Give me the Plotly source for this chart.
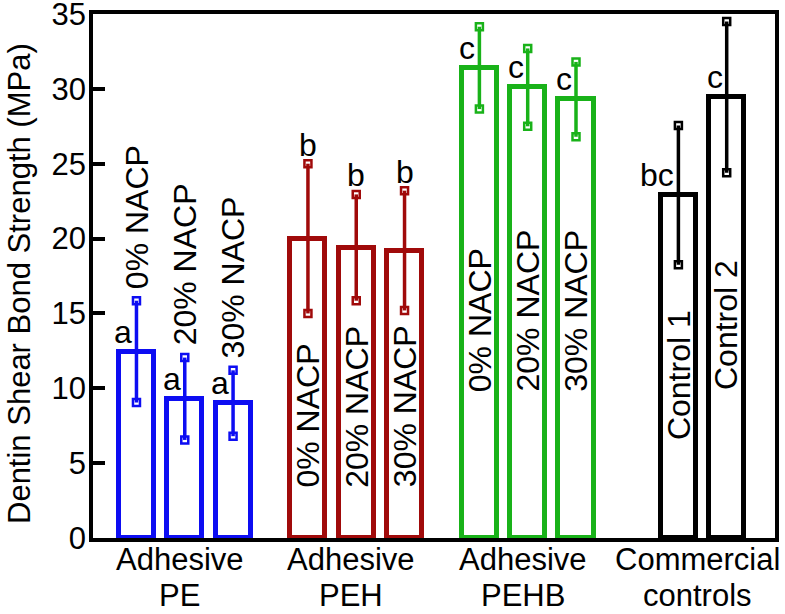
import plotly.graph_objects as go

# ---------------- data ----------------
group_line1 = ["Adhesive", "Adhesive", "Adhesive", "Commercial"]
group_line2 = ["PE", "PEH", "PEHB", "controls"]
bar_labels = [
    ["0% NACP", "20% NACP", "30% NACP"],
    ["0% NACP", "20% NACP", "30% NACP"],
    ["0% NACP", "20% NACP", "30% NACP"],
    ["Control 1", "Control 2"],
]
means_pe = [12.45, 9.3, 9.0]
sd_pe = [3.4, 2.75, 2.2]
means_peh = [20.0, 19.4, 19.2]
sd_peh = [5.0, 3.55, 4.0]
means_pehb = [31.4, 30.1, 29.3]
sd_pehb = [2.75, 2.6, 2.5]
means_ctrl = [22.9, 29.45]
sd_ctrl = [4.65, 5.05]
letters = [["a", "a", "a"], ["b", "b", "b"], ["c", "c", "c"], ["bc", "c"]]

means = [means_pe, means_peh, means_pehb, means_ctrl]
sds = [sd_pe, sd_peh, sd_pehb, sd_ctrl]
y_ticks = [0, 5, 10, 15, 20, 25, 30, 35]
y_title = "Dentin Shear Bond Strength (MPa)"

# ---------------- layout / style ----------------
colors = ["#0D0DF2", "#A00A0A", "#19B219", "#000000"]
group_starts = [0.9, 4.45, 8.0, 12.12]
step = 1.0
FONT = "Arial, Liberation Sans, sans-serif"
# where rotated labels sit: 'err' = above error bar, number = bottom of text in data units
label_mode = ["err", 3.5, 9.9, [6.7, 10.0]]
letter_mode = ["bar", "err", "bar", "bar"]
LBL = 32
LET = 32
XLBL = 31

fig = go.Figure()
annotations = []
centers = []
for g, (m, s) in enumerate(zip(means, sds)):
    xs = [group_starts[g] + i * step for i in range(len(m))]
    centers.append(sum(xs) / len(xs))
    col = colors[g]
    fig.add_trace(go.Bar(
        x=xs, y=m, width=0.725,
        marker=dict(color="rgba(255,255,255,0)", line=dict(color=col, width=5)),
        error_y=dict(type="data", array=s, visible=True, color=col, thickness=3.5, width=0),
        showlegend=False,
    ))
    cap_x = xs + xs
    cap_y = [mi + si for mi, si in zip(m, s)] + [mi - si for mi, si in zip(m, s)]
    fig.add_trace(go.Scatter(
        x=cap_x, y=cap_y, mode="markers",
        marker=dict(symbol="square-open", size=7, color=col, line=dict(color=col, width=2.5)),
        showlegend=False, hoverinfo="skip",
    ))
    for i, x in enumerate(xs):
        mode = label_mode[g]
        if mode == "err":
            annotations.append(dict(x=x, y=m[i] + s[i], text=bar_labels[g][i], textangle=-90,
                                    xanchor="center", yanchor="bottom", yshift=10, xshift=0,
                                    showarrow=False, font=dict(size=LBL, color="black", family=FONT)))
        else:
            yb = mode[i] if isinstance(mode, list) else mode
            annotations.append(dict(x=x, y=yb, text=bar_labels[g][i], textangle=-90,
                                    xanchor="center", yanchor="bottom", yshift=-4, xshift=0,
                                    showarrow=False, font=dict(size=LBL, color="black", family=FONT)))
        if letter_mode[g] == "err":
            annotations.append(dict(x=x, y=m[i] + s[i], text=letters[g][i], xanchor="center",
                                    yanchor="middle", yshift=19, showarrow=False,
                                    font=dict(size=LET, color="black", family=FONT)))
        else:
            annotations.append(dict(x=x, y=m[i], text=letters[g][i], xanchor="right",
                                    yanchor="middle", yshift=20, xshift=-2, showarrow=False,
                                    font=dict(size=LET, color="black", family=FONT)))

# category labels under the axis (two lines each)
for g, c in enumerate(centers):
    annotations.append(dict(x=c, xref="x", y=0, yref="paper", text=group_line1[g], xanchor="center",
                            yanchor="middle", yshift=-21, xshift=-5, showarrow=False,
                            font=dict(size=XLBL, color="black", family=FONT)))
    annotations.append(dict(x=c, xref="x", y=0, yref="paper", text=group_line2[g], xanchor="center",
                            yanchor="middle", yshift=-57, xshift=-5, showarrow=False,
                            font=dict(size=XLBL, color="black", family=FONT)))

annotations.append(dict(xref="paper", yref="paper", x=0, y=0.5, xshift=-74, yshift=-8, text=y_title,
                        textangle=-90, xanchor="center", yanchor="middle", showarrow=False,
                        font=dict(size=31, color="black", family=FONT)))

fig.update_layout(
    width=785, height=614,
    margin=dict(l=93, r=10, t=14, b=76),
    plot_bgcolor="white", paper_bgcolor="white",
    font=dict(family=FONT, size=31, color="black"),
    annotations=annotations,
    bargap=0,
)
fig.update_xaxes(
    range=[0, 14.12], showticklabels=False,
    showline=True, linecolor="black", linewidth=3.5, mirror=True,
    ticks="", showgrid=False, zeroline=False, automargin=False,
)
fig.update_yaxes(
    range=[0, 35], tickvals=y_ticks,
    showline=True, linecolor="black", linewidth=3.5, mirror=True,
    ticks="inside", ticklen=12, tickwidth=3.5, tickcolor="black",
    showgrid=False, zeroline=False, automargin=False,
    ticklabeloverflow="allow", ticklabelstandoff=-3,
    tickfont=dict(size=31, family=FONT, color="black"),
)

fig.write_html("out.html", config={"displayModeBar": False},
               post_script="document.body.style.margin='0';document.body.style.overflow='hidden';")
